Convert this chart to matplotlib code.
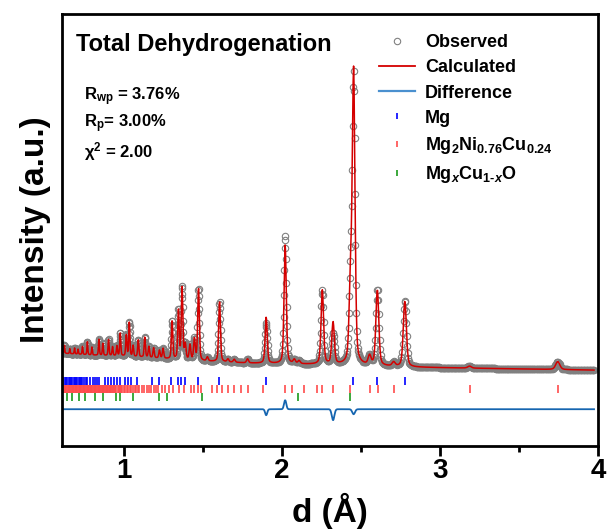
import numpy as np
import matplotlib
matplotlib.use("Agg")
import matplotlib.pyplot as plt
from matplotlib.lines import Line2D

plt.rcParams["font.family"] = ["Liberation Sans", "DejaVu Sans"]
plt.rcParams["font.weight"] = "bold"
plt.rcParams["axes.labelweight"] = "bold"
plt.rcParams["mathtext.fontset"] = "custom"
plt.rcParams["mathtext.rm"] = "Liberation Sans:bold"
plt.rcParams["mathtext.bf"] = "Liberation Sans:bold"
plt.rcParams["mathtext.it"] = "Liberation Sans:bold:italic"
plt.rcParams["mathtext.default"] = "rm"

# background level (a.u.) read at a few d-spacings
bg_d = [0.61, 0.8, 1.0, 1.2, 1.5, 1.8, 2.1, 2.4, 2.8, 3.2, 3.6, 4.0]
bg_i = [93, 91, 90, 88, 85, 83, 82, 81, 79, 78, 77, 76]

# Bragg peaks: position (Å) and height above background (a.u.)
peak_d = [0.626, 0.66, 0.69, 0.712, 0.74, 0.771, 0.80, 0.844, 0.869, 0.905,
          0.93, 0.958, 0.979, 1.017, 1.036, 1.06, 1.093, 1.134, 1.16, 1.19,
          1.227, 1.25, 1.307, 1.347, 1.37, 1.39, 1.42, 1.448, 1.474, 1.53,
          1.607, 1.66, 1.70, 1.784, 1.902, 2.022, 2.08, 2.11, 2.257, 2.325,
          2.435, 2.455, 2.556, 2.605, 2.708, 2.779, 3.188, 3.746]
peak_h = [8, 5, 6, 5, 8, 13, 8, 16, 12, 16,
          9, 10, 23, 21, 34, 11, 17, 20, 11, 10,
          8, 10, 38, 49, 72, 15, 15, 21, 72, 4,
          60, 3, 3, 4, 46, 119, 4, 3, 74, 42,
          72, 290, 9, 76, 4, 66, 2, 8]

# misfit spikes seen in the difference curve
diff_d = [1.902, 2.022, 2.325, 2.455]
diff_h = [-6, 9, -11, -5]

# reflection markers for each phase (Å)
mg_ticks = [0.612, 0.62, 0.628, 0.636, 0.645, 0.652, 0.66, 0.668, 0.676, 0.684,
            0.692, 0.70, 0.708, 0.716, 0.724, 0.732, 0.74, 0.75, 0.76, 0.77,
            0.785, 0.806, 0.817, 0.832, 0.844, 0.88, 0.901, 0.922, 0.939, 0.958,
            0.977, 1.012, 1.031, 1.050, 1.088, 1.182, 1.226, 1.303, 1.343, 1.366,
            1.389, 1.473, 1.605, 1.90, 2.452, 2.605, 2.779]
mg2ni_ticks = [0.612, 0.617, 0.622, 0.627, 0.632, 0.637, 0.642, 0.647, 0.652, 0.657,
               0.662, 0.667, 0.672, 0.677, 0.682, 0.687, 0.692, 0.697, 0.702, 0.707,
               0.712, 0.717, 0.722, 0.727, 0.732, 0.737, 0.742, 0.747, 0.752, 0.757,
               0.762, 0.767, 0.772, 0.777, 0.782, 0.787, 0.792, 0.797, 0.802, 0.807,
               0.812, 0.817, 0.822, 0.827, 0.832, 0.837, 0.842, 0.847, 0.852, 0.857,
               0.862, 0.867, 0.872, 0.877, 0.882, 0.887, 0.892, 0.897, 0.902, 0.907,
               0.912, 0.917, 0.922, 0.927, 0.932, 0.94, 0.948, 0.955, 0.962, 0.97,
               0.978, 0.985, 0.993, 1.0, 1.01, 1.02, 1.03, 1.04, 1.05, 1.06,
               1.07, 1.08, 1.09, 1.10, 1.115, 1.13, 1.145, 1.16, 1.175, 1.19,
               1.205, 1.22, 1.24, 1.26, 1.29, 1.31, 1.35, 1.38, 1.427, 1.448,
               1.469, 1.49, 1.56, 1.59, 1.62, 1.658, 1.70, 1.742, 1.784, 1.879,
               2.018, 2.064, 2.142, 2.226, 2.257, 2.325, 2.432, 2.556, 2.607, 2.708,
               3.188, 3.746]
mgo_ticks = [0.608, 0.642, 0.674, 0.716, 0.754, 0.821, 0.869, 0.95, 0.975, 1.059,
             1.221, 1.273, 1.494, 2.106, 2.432]

# grid in d (constant relative step, as in a TOF pattern)
d = 0.61 * 1.0012 ** np.arange(1575)
d = d[d <= 3.98]


def profile(x, centres, heights, eta=0.4):
    y = np.zeros_like(x)
    for c, h in zip(centres, heights):
        sig = 0.0035 * c
        g = np.exp(-0.5 * ((x - c) / sig) ** 2)
        gam = 1.1774 * sig
        lor = 1.0 / (1.0 + ((x - c) / gam) ** 2)
        y += h * ((1 - eta) * g + eta * lor)
    return y


calc = np.interp(d, bg_d, bg_i) + profile(d, peak_d, peak_h)
misfit = profile(d, diff_d, diff_h, eta=0.0)
obs = calc + misfit
diff = 37 + misfit

fig = plt.figure(figsize=(6.07, 5.30), dpi=100)
ax = fig.add_axes([0.102, 0.158, 0.883, 0.816])

ax.plot(d, obs, "o", ms=4.6, mfc="none", mec="#808080", mew=0.8)
ax.plot(d, calc, color="#d40000", lw=1.1)
ax.plot(d, diff, color="#1565b0", lw=1.3)

ax.plot(mg_ticks, [65] * len(mg_ticks), "|", color="#0000ff", ms=6, mew=1.2)
ax.plot(mg2ni_ticks, [57] * len(mg2ni_ticks), "|", color="#ff4c4c", ms=6, mew=1.2)
ax.plot(mgo_ticks, [49] * len(mgo_ticks), "|", color="#1a9a1a", ms=6, mew=1.2)

ax.set_xlim(0.61, 4.0)
ax.set_ylim(0, 432)
ax.set_yticks([])
ax.set_xticks([1, 2, 3, 4])
ax.set_xticks([1.5, 2.5, 3.5], minor=True)
ax.tick_params(axis="x", which="major", direction="out", length=7, width=2,
               labelsize=20, pad=1.5)
ax.tick_params(axis="x", which="minor", direction="out", length=4, width=2)
for sp in ax.spines.values():
    sp.set_linewidth(2)

ax.set_xlabel("d (Å)", fontsize=24, labelpad=6)
ax.set_ylabel("Intensity (a.u.)", fontsize=24, labelpad=8)

ax.text(0.027, 0.915, "Total Dehydrogenation", transform=ax.transAxes,
        fontsize=17, fontweight="bold", va="baseline")
ax.text(0.041, 0.80, r"R$_{wp}$ = 3.76%", transform=ax.transAxes,
        fontsize=12, va="baseline")
ax.text(0.041, 0.737, r"R$_{p}$= 3.00%", transform=ax.transAxes,
        fontsize=12, va="baseline")
ax.text(0.041, 0.667, r"$\chi^2$ = 2.00", transform=ax.transAxes,
        fontsize=12, va="baseline")

handles = [
    Line2D([], [], ls="none", marker="o", ms=4.6, mfc="none", mec="#808080", mew=0.8),
    Line2D([], [], color="#d40000", lw=1.3),
    Line2D([], [], color="#4a90cf", lw=1.6),
    Line2D([], [], ls="none", marker="|", color="#0000ff", ms=5, mew=1.2),
    Line2D([], [], ls="none", marker="|", color="#ff4c4c", ms=5, mew=1.2),
    Line2D([], [], ls="none", marker="|", color="#1a9a1a", ms=5, mew=1.2),
]
labels = ["Observed", "Calculated", "Difference", "Mg",
          r"Mg$_2$Ni$_{0.76}$Cu$_{0.24}$", "Mg$_{\\mathit{x}}$Cu$_{\\mathit{1\u2010x}}$O"]
ax.legend(handles, labels, loc="upper right", bbox_to_anchor=(0.946, 0.99),
          frameon=False, fontsize=13, handlelength=2.0, handletextpad=0.55,
          labelspacing=0.45)

fig.savefig("out.png", dpi=100)
